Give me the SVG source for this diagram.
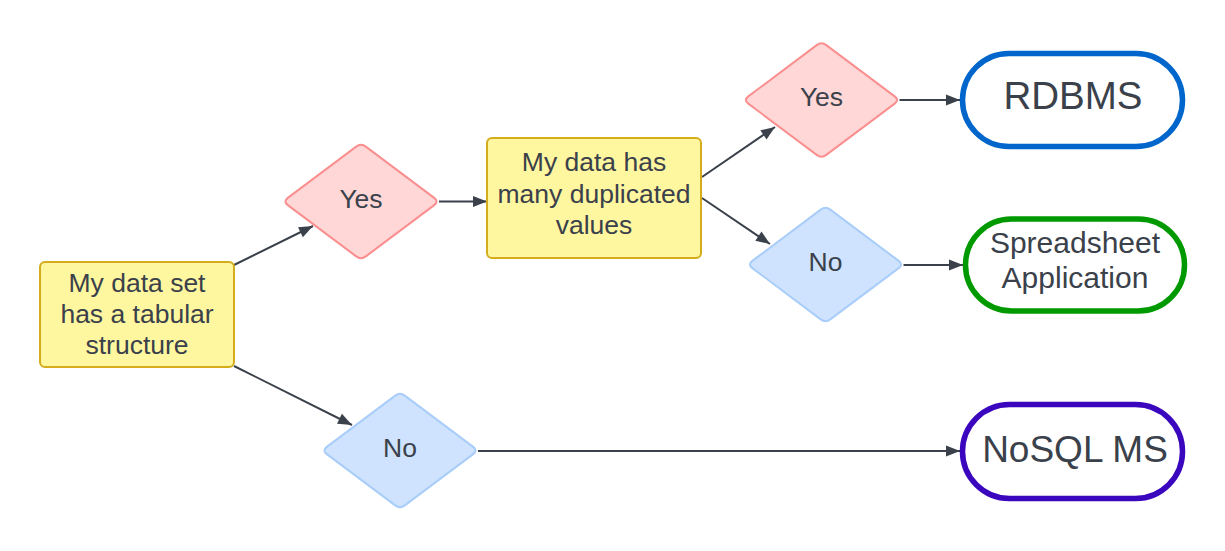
<svg xmlns="http://www.w3.org/2000/svg" xmlns:xlink="http://www.w3.org/1999/xlink" width="1225" height="551" viewBox="0 0 1225 551">
<style>
  text { font-family: "Liberation Sans", Arial, sans-serif; fill: #3a414a; text-anchor: middle; }
  .t26 { font-size: 26.5px; }
  .proc { fill: #fff6a0; stroke: #d4ac1c; stroke-width: 2; }
  .yes { fill: #ffd7d7; stroke: #fb8f8f; stroke-width: 2; }
  .no { fill: #cfe3ff; stroke: #a9cdf9; stroke-width: 2; }
  .term { fill: #ffffff; stroke-width: 5.5; }
  .conn line { stroke: #3a414a; stroke-width: 2; marker-end: url(#arrow); }
</style>
<defs>
  <marker id="arrow" markerUnits="userSpaceOnUse" markerWidth="16" markerHeight="14" refX="15" refY="7" orient="auto">
    <path d="M1,1.5 L15,7 L1,12.5 Z" fill="#3a414a"/>
  </marker>
  <path id="dia" d="M -73.2,-3.6 L -4.8,-54.9 Q 0,-58.5 4.8,-54.9 L 73.2,-3.6 Q 78,0 73.2,3.6 L 4.8,54.9 Q 0,58.5 -4.8,54.9 L -73.2,3.6 Q -78,0 -73.2,-3.6 Z"/>
</defs>
<rect width="1225" height="551" fill="#ffffff"/>
<g id="connectors" class="conn">
  <line x1="234" y1="265" x2="313" y2="226"/>
  <line x1="439" y1="201.5" x2="487" y2="201.5"/>
  <line x1="234" y1="366" x2="352" y2="425"/>
  <line x1="702" y1="177" x2="775" y2="127"/>
  <line x1="702" y1="198" x2="770" y2="244"/>
  <line x1="899.5" y1="100" x2="960" y2="100"/>
  <line x1="903.5" y1="265" x2="963" y2="265"/>
  <line x1="478" y1="451" x2="960" y2="451"/>
</g>
<g id="n-tabular">
  <rect class="proc" x="40" y="262" width="194" height="105" rx="5"/>
  <text class="t26" x="137" y="291.5">My data set</text>
  <text class="t26" x="137" y="323">has a tabular</text>
  <text class="t26" x="137" y="354">structure</text>
</g>
<g id="n-yes1">
  <use xlink:href="#dia" class="yes" transform="translate(361,201.5)"/>
  <text class="t26" x="361" y="207.5">Yes</text>
</g>
<g id="n-no1">
  <use xlink:href="#dia" class="no" transform="translate(400,450.5)"/>
  <text class="t26" x="400" y="456.5">No</text>
</g>
<g id="n-duplicated">
  <rect class="proc" x="487" y="138" width="214" height="120" rx="5"/>
  <text class="t26" x="594" y="171">My data has</text>
  <text class="t26" x="594" y="202.5">many duplicated</text>
  <text class="t26" x="594" y="233.5">values</text>
</g>
<g id="n-yes2">
  <use xlink:href="#dia" class="yes" transform="translate(821.5,100)"/>
  <text class="t26" x="821.5" y="106">Yes</text>
</g>
<g id="n-no2">
  <use xlink:href="#dia" class="no" transform="translate(825.5,264.5)"/>
  <text class="t26" x="825.5" y="270.5">No</text>
</g>
<g id="n-rdbms">
  <rect class="term" stroke="#0066cc" x="962.5" y="53.5" width="220" height="93" rx="46.5"/>
  <text x="1073" y="109.3" font-size="38.5">RDBMS</text>
</g>
<g id="n-spreadsheet">
  <rect class="term" stroke="#009a00" x="965.5" y="219" width="219" height="92" rx="46"/>
  <text x="1075" y="253.3" font-size="30">Spreadsheet</text>
  <text x="1075" y="288.3" font-size="30">Application</text>
</g>
<g id="n-nosql">
  <rect class="term" stroke="#3a06be" x="962.5" y="404.5" width="220" height="94" rx="47"/>
  <text x="1075" y="461.7" font-size="37">NoSQL MS</text>
</g>
</svg>
